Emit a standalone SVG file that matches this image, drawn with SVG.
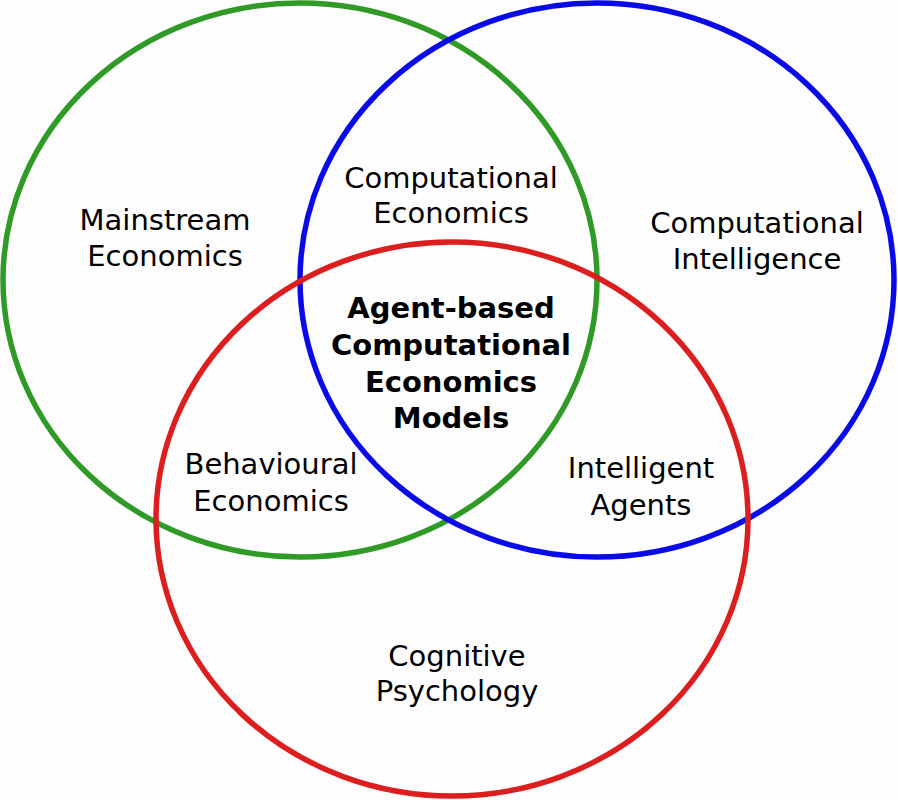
<svg xmlns="http://www.w3.org/2000/svg" width="898" height="800" viewBox="0 0 898 800">
<style>
.c{fill:none;stroke-width:5.5}
.t{font-family:"DejaVu Sans",sans-serif;font-size:29px;fill:#000;text-anchor:middle}
.b{font-weight:bold}
</style>
<rect width="898" height="800" fill="#fdfdfd"/>
<g id="sets">
<ellipse id="green" class="c" cx="300" cy="280" rx="297" ry="277" stroke="#2f9a26"/>
<ellipse id="blue" class="c" cx="597" cy="280" rx="297" ry="277" stroke="#0a0ae8"/>
<ellipse id="red" class="c" cx="452" cy="519" rx="296" ry="277" stroke="#dc1e1e"/>
</g>
<g id="labels">
<text class="t" x="165" y="230">Mainstream<tspan x="165" y="266">Economics</tspan></text>
<text class="t" x="451" y="188">Computational<tspan x="451" y="223">Economics</tspan></text>
<text class="t" x="757" y="233">Computational<tspan x="757" y="269">Intelligence</tspan></text>
<text class="t b" x="451" y="318">Agent-based<tspan x="451" y="355">Computational</tspan><tspan x="451" y="392">Economics</tspan><tspan x="451" y="428">Models</tspan></text>
<text class="t" x="271" y="474">Behavioural<tspan x="271" y="511">Economics</tspan></text>
<text class="t" x="641" y="478">Intelligent<tspan x="641" y="515">Agents</tspan></text>
<text class="t" x="457" y="666">Cognitive<tspan x="457" y="701">Psychology</tspan></text>
</g>
</svg>
